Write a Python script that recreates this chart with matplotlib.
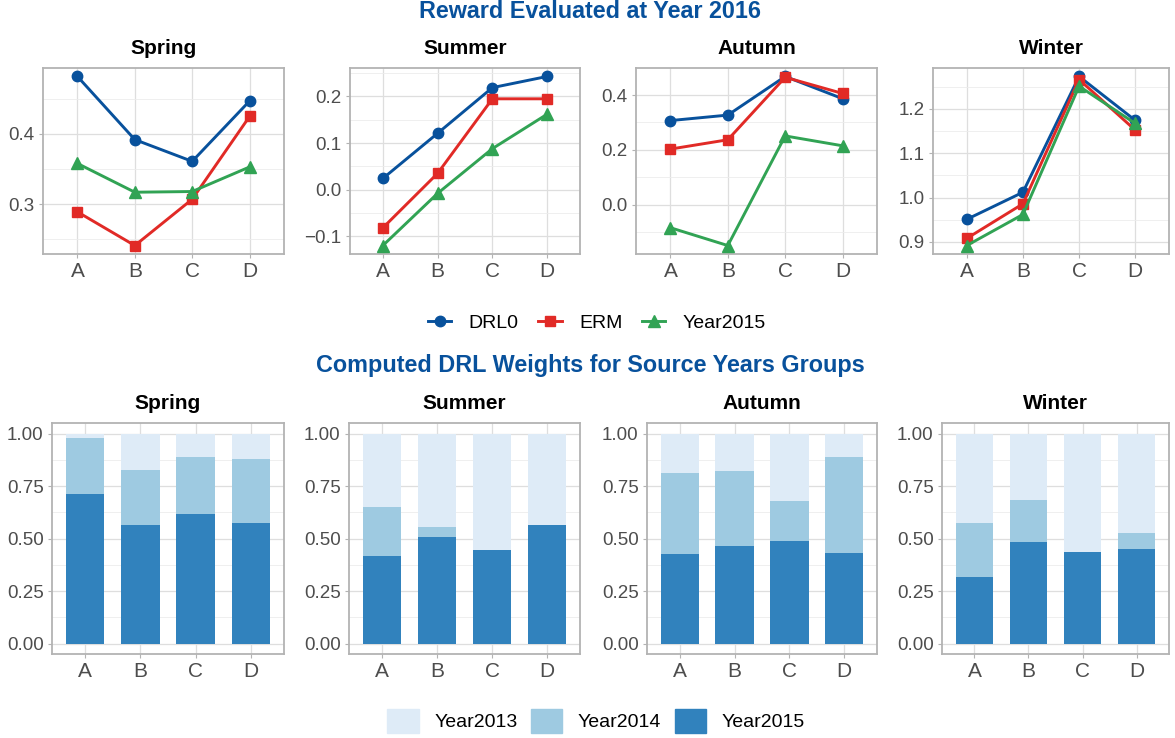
import numpy as np
import matplotlib
matplotlib.use("Agg")
import matplotlib.pyplot as plt
from matplotlib.lines import Line2D
from matplotlib.patches import Patch

plt.rcParams['font.family'] = ['Liberation Sans', 'DejaVu Sans']

seasons = ['Spring', 'Summer', 'Autumn', 'Winter']
groups = ['A', 'B', 'C', 'D']

# reward evaluated at 2016
drl0 = {'Spring': [0.482, 0.392, 0.361, 0.447],
        'Summer': [0.024, 0.121, 0.219, 0.243],
        'Autumn': [0.307, 0.327, 0.468, 0.387],
        'Winter': [0.951, 1.012, 1.273, 1.174]}
erm = {'Spring': [0.289, 0.241, 0.307, 0.425],
       'Summer': [-0.082, 0.035, 0.195, 0.195],
       'Autumn': [0.203, 0.237, 0.465, 0.406],
       'Winter': [0.908, 0.986, 1.266, 1.152]}
y2015 = {'Spring': [0.358, 0.317, 0.318, 0.353],
         'Summer': [-0.120, -0.008, 0.088, 0.162],
         'Autumn': [-0.084, -0.149, 0.251, 0.215],
         'Winter': [0.892, 0.962, 1.251, 1.167]}

# DRL weights
w2015 = {'Spring': [0.714, 0.566, 0.619, 0.576],
         'Summer': [0.415, 0.505, 0.443, 0.566],
         'Autumn': [0.424, 0.462, 0.487, 0.429],
         'Winter': [0.315, 0.481, 0.438, 0.448]}
w2014 = {'Spring': [0.265, 0.262, 0.270, 0.304],
         'Summer': [0.237, 0.052, 0.0, 0.0],
         'Autumn': [0.389, 0.361, 0.193, 0.460],
         'Winter': [0.261, 0.204, 0.0, 0.076]}

line_colors = {'DRL0': '#08519c', 'ERM': '#e12a26', 'Year2015': '#31a354'}
bar_colors = {'Year2013': '#deebf7', 'Year2014': '#9ecae1', 'Year2015': '#3182bd'}

W, H = 1175, 738
fig = plt.figure(figsize=(W / 100, H / 100), dpi=100)


def px_axes(x0, x1, y0, y1):
    return fig.add_axes([x0 / W, 1 - y1 / H, (x1 - x0) / W, (y1 - y0) / H])


def style(ax, title):
    ax.set_facecolor('white')
    for s in ax.spines.values():
        s.set_color('#b3b3b3')
        s.set_linewidth(1.3)
    ax.grid(True, which='major', color='#dedede', lw=0.9)
    ax.grid(True, which='minor', color='#ececec', lw=0.6)
    ax.set_axisbelow(True)
    ax.tick_params(axis='both', which='major', color='#b3b3b3', length=3, width=0.8)
    ax.tick_params(axis='y', labelsize=13.5, labelcolor='#4d4d4d', pad=3)
    ax.tick_params(axis='x', labelsize=15, labelcolor='#4d4d4d', pad=3)
    ax.tick_params(which='minor', length=0)
    ax.set_title(title, fontsize=15, fontweight='bold', pad=10)


x = np.arange(1, 5)
top_pos = [(43, 284), (350, 580), (636, 877), (933, 1169)]
bot_pos = [(52, 284), (349, 580), (647, 877), (942, 1169)]

yticks_top = {'Spring': [0.3, 0.4], 'Summer': [-0.1, 0.0, 0.1, 0.2],
              'Autumn': [0.0, 0.2, 0.4], 'Winter': [0.9, 1.0, 1.1, 1.2]}

for s, (x0, x1) in zip(seasons, top_pos):
    ax = px_axes(x0, x1, 68, 254)
    ax.plot(x, drl0[s], '-o', color=line_colors['DRL0'], lw=2.1, ms=7.5, zorder=3)
    ax.plot(x, erm[s], '-s', color=line_colors['ERM'], lw=2.1, ms=7.5, zorder=3)
    ax.plot(x, y2015[s], '-^', color=line_colors['Year2015'], lw=2.1, ms=8, zorder=3)
    yt = yticks_top[s]
    ax.set_yticks(yt)
    ax.set_yticklabels(['{:.1f}'.format(v).replace('-', '\u2212') for v in yt])
    step = yt[1] - yt[0]
    minor = np.arange(yt[0] - step * 1.5, yt[-1] + step, step)
    ax.set_yticks(minor, minor=True)
    ax.set_xticks(x)
    ax.set_xticklabels(groups)
    ax.set_xticks([], minor=True)
    allv = drl0[s] + erm[s] + y2015[s]
    lo, hi = min(allv), max(allv)
    pad = (hi - lo) * 0.05
    ax.set_ylim(lo - pad, hi + pad)
    ax.set_xlim(0.4, 4.6)
    style(ax, s)

for s, (x0, x1) in zip(seasons, bot_pos):
    ax = px_axes(x0, x1, 423, 654)
    b15 = np.array(w2015[s])
    b14 = np.array(w2014[s])
    b13 = 1 - b15 - b14
    ax.bar(x, b15, width=0.7, color=bar_colors['Year2015'], zorder=2)
    ax.bar(x, b14, width=0.7, bottom=b15, color=bar_colors['Year2014'], zorder=2)
    ax.bar(x, b13, width=0.7, bottom=b15 + b14, color=bar_colors['Year2013'], zorder=2)
    ax.set_xticks(x)
    ax.set_xticklabels(groups)
    ax.set_yticks([0, 0.25, 0.5, 0.75, 1.0])
    ax.set_yticklabels(['0.00', '0.25', '0.50', '0.75', '1.00'])
    ax.set_yticks([0.125, 0.375, 0.625, 0.875], minor=True)
    ax.set_xticks([], minor=True)
    ax.set_ylim(-0.05, 1.05)
    ax.set_xlim(0.4, 4.6)
    style(ax, s)

fig.text(590 / W, 1 - 12 / H, 'Reward Evaluated at Year 2016', ha='center', va='center',
         fontsize=16.8, fontweight='bold', color='#08519c')
fig.text(590 / W, 1 - 366 / H, 'Computed DRL Weights for Source Years Groups', ha='center',
         va='center', fontsize=16.8, fontweight='bold', color='#08519c')

line_handles = [
    Line2D([], [], color=line_colors['DRL0'], marker='o', lw=2.1, ms=7.5),
    Line2D([], [], color=line_colors['ERM'], marker='s', lw=2.1, ms=7.5),
    Line2D([], [], color=line_colors['Year2015'], marker='^', lw=2.1, ms=8),
]
fig.legend(line_handles, ['DRL0', 'ERM', 'Year2015'], loc='center',
           bbox_to_anchor=(597 / W, 1 - 323 / H), ncol=3, frameon=False,
           fontsize=14, handlelength=1.2, columnspacing=1.0, handletextpad=0.9)

bar_handles = [Patch(color=bar_colors[k]) for k in ['Year2013', 'Year2014', 'Year2015']]
fig.legend(bar_handles, ['Year2013', 'Year2014', 'Year2015'], loc='center',
           bbox_to_anchor=(596 / W, 1 - 721 / H), ncol=3, frameon=False,
           fontsize=14, handlelength=1.6, handleheight=1.6, columnspacing=0.7,
           handletextpad=0.8)

fig.savefig('out.png', dpi=100)
